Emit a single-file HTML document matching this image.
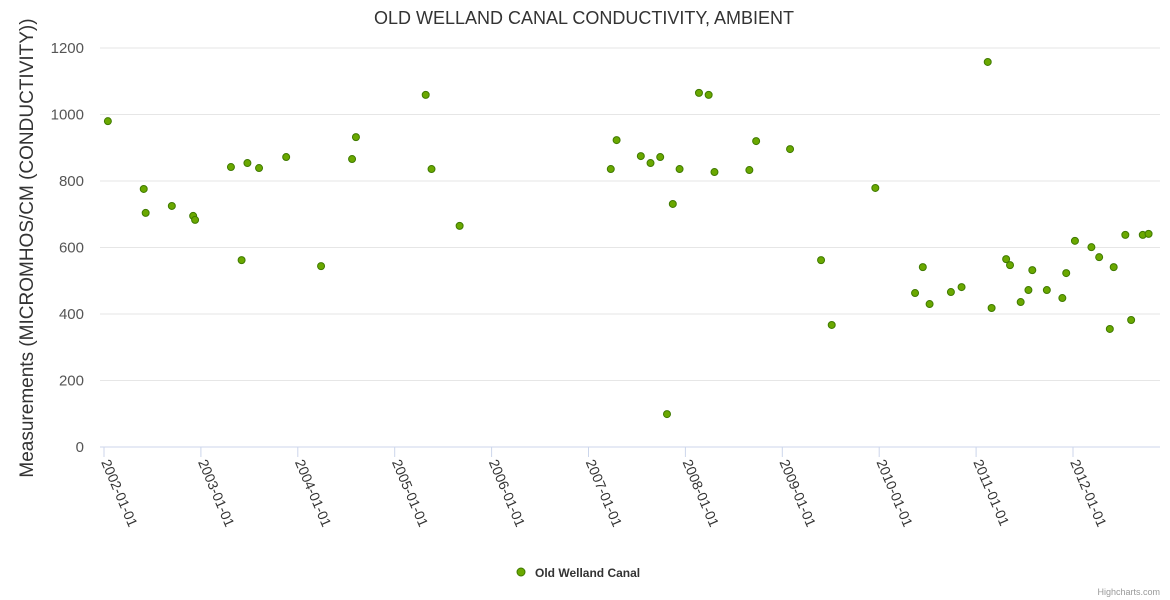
<!DOCTYPE html>
<html><head><meta charset="utf-8"><style>
body{margin:0;background:#fff;font-family:"Liberation Sans",sans-serif}
svg{display:block}
</style></head><body>
<svg id="chart" width="1170" height="600">
<text x="584" y="24" text-anchor="middle" font-size="18" fill="#333">OLD WELLAND CANAL CONDUCTIVITY, AMBIENT</text>
<text transform="translate(33,248) rotate(-90)" text-anchor="middle" font-size="19" fill="#333">Measurements (MICROMHOS/CM (CONDUCTIVITY))</text>
<g id="grid"></g><g id="xaxis"></g><g id="pts"></g>
<g>
<circle cx="521" cy="572" r="4" fill="#6aa800" stroke="#3f7a00" stroke-width="1"/>
<text x="535" y="577" font-size="12" font-weight="bold" fill="#333">Old Welland Canal</text>
</g>
<text x="1160" y="595" text-anchor="end" font-size="9" fill="#999">Highcharts.com</text>
</svg>
<script>
const yTicks=[0,200,400,600,800,1000,1200];
const xTickYears=[2002,2003,2004,2005,2006,2007,2008,2009,2010,2011,2012];
const dates=[2002.04,2002.41,2002.43,2002.70,2002.92,2002.94,2003.31,2003.42,2003.48,2003.60,2003.88,2004.24,2004.56,2004.60,2005.32,2005.38,2005.67,2007.23,2007.29,2007.54,2007.64,2007.74,2007.81,2007.87,2007.94,2008.14,2008.24,2008.30,2008.66,2008.73,2009.08,2009.40,2009.51,2009.96,2010.37,2010.45,2010.52,2010.74,2010.85,2011.12,2011.16,2011.31,2011.35,2011.46,2011.54,2011.58,2011.73,2011.89,2011.93,2012.02,2012.19,2012.27,2012.38,2012.42,2012.54,2012.60,2012.72,2012.78];
const values=[980,776,704,725,695,683,842,562,854,839,872,544,866,932,1059,836,665,836,923,875,854,872,99,731,836,1065,1059,827,833,920,896,562,367,779,463,541,430,466,481,1158,418,565,547,436,472,532,472,448,523,620,601,571,355,541,638,382,638,641];
const NS="http://www.w3.org/2000/svg";
const X=t=>104+(t-2002)*96.9, Y=v=>447-v*0.3325;
const grid=document.getElementById('grid'),xa=document.getElementById('xaxis'),pts=document.getElementById('pts');
function mk(tag,at,p){const e=document.createElementNS(NS,tag);for(const k in at)e.setAttribute(k,at[k]);p.appendChild(e);return e;}
yTicks.forEach(v=>{
 const l=mk('line',{x1:100,x2:1160,y1:Y(v),y2:Y(v),stroke:v===0?'#ccd6eb':'#e6e6e6','stroke-width':1},grid);
 
 
 const t=mk('text',{x:84,y:Y(v)+5,'text-anchor':'end','font-size':15,fill:'#555'},grid);t.textContent=v;
 
 
});
xTickYears.forEach(y=>{
 const x=X(y);
 const tk=mk('line',{x1:x,x2:x,y1:447,y2:457,stroke:'#ccd6eb'},xa);
 
 
 const t=mk('text',{transform:`translate(${x-3},${462}) rotate(67)`,'font-size':14,fill:'#333'},xa);t.textContent=y+'-01-01';
 
 
});
dates.forEach((d,i)=>{
 const c=mk('circle',{cx:X(d),cy:Y(values[i]),r:3.5,fill:'#6aa800',stroke:'#3f7a00','stroke-width':1},pts);
 
 
});
</script>
</body></html>
